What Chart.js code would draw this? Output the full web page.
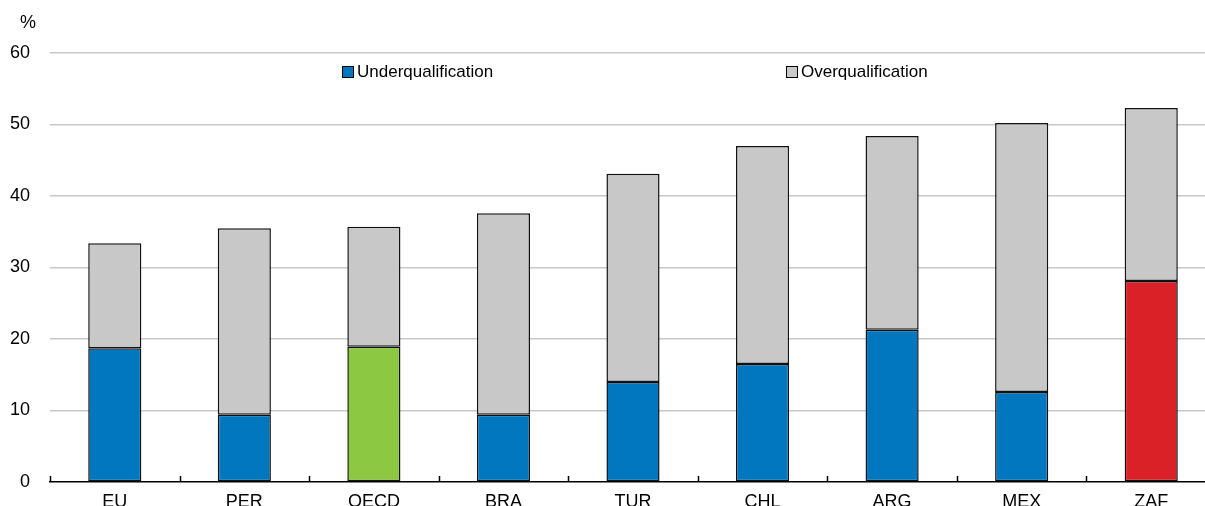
<!DOCTYPE html>
<html>
<head>
<meta charset="utf-8">
<script src="https://cdn.jsdelivr.net/npm/chart.js@4/dist/chart.umd.min.js"></script>
<style>
  html, body { margin: 0; padding: 0; background: #fff; overflow: hidden; }
  #wrap { width: 1205px; height: 506px; overflow: hidden; position: relative; }
  canvas { display: block; }
</style>
</head>
<body>
<div id="wrap"><canvas id="chart" width="1216" height="506"></canvas></div>
<script>
// Data
const countries = ['EU', 'PER', 'OECD', 'BRA', 'TUR', 'CHL', 'ARG', 'MEX', 'ZAF'];
const underqualification = [18.7, 9.4, 18.9, 9.4, 14.0, 16.5, 21.3, 12.6, 28.1];
const overqualification = [14.7, 26.1, 16.8, 28.2, 29.1, 30.5, 27.1, 37.6, 24.2];
const yTicks = [0, 10, 20, 30, 40, 50, 60];
const seriesNames = ['Underqualification', 'Overqualification'];

const FONT = '"Liberation Sans Narrow", "Arial Narrow", "Liberation Sans", Arial, sans-serif';
const FONT_SIZE = 18;
const BLUE = '#0077be';
const GREY = '#c8c8c8';

// highlight colours for OECD and ZAF
const underColours = countries.map(function (c) {
  if (c === 'OECD') return '#8cc841';
  if (c === 'ZAF') return '#da2128';
  return BLUE;
});

// legend, % label and small upward ticks on the x axis
const extras = {
  id: 'extras',
  afterDraw: function (chart) {
    const ctx = chart.ctx;
    const area = chart.chartArea;
    ctx.save();
    ctx.fillStyle = '#000';
    ctx.font = FONT_SIZE + 'px ' + FONT;
    ctx.textBaseline = 'middle';
    ctx.textAlign = 'left';
    ctx.fillText('%', 20, 23);

    // legend
    ctx.font = '17px ' + FONT;
    const items = [
      { label: seriesNames[0], colour: BLUE, x: 342 },
      { label: seriesNames[1], colour: GREY, x: 786 }
    ];
    items.forEach(function (it) {
      ctx.fillStyle = it.colour;
      ctx.fillRect(it.x, 66, 11, 11);
      ctx.strokeStyle = '#000';
      ctx.lineWidth = 1;
      ctx.strokeRect(it.x + 0.5, 66.5, 11, 11);
      ctx.fillStyle = '#000';
      ctx.fillText(it.label, it.x + 15, 72);
    });

    // ticks between categories
    ctx.strokeStyle = '#000';
    ctx.lineWidth = 1.5;
    const step = (area.right - area.left) / countries.length;
    for (let i = 0; i <= countries.length; i++) {
      const tx = Math.round(area.left + i * step) + 0.5;
      ctx.beginPath();
      ctx.moveTo(tx, area.bottom);
      ctx.lineTo(tx, area.bottom - 6);
      ctx.stroke();
    }
    ctx.restore();
  }
};

new Chart(document.getElementById('chart'), {
  type: 'bar',
  data: {
    labels: countries,
    datasets: [
      {
        label: seriesNames[0],
        data: underqualification,
        backgroundColor: underColours,
        borderColor: '#111',
        borderWidth: 1.5,
        borderSkipped: false
      },
      {
        label: seriesNames[1],
        data: overqualification,
        backgroundColor: GREY,
        borderColor: '#111',
        borderWidth: 1.5,
        borderSkipped: false
      }
    ]
  },
  options: {
    responsive: false,
    animation: false,
    datasets: { bar: { categoryPercentage: 1, barPercentage: 0.41 } },
    layout: { padding: { top: 53, right: 0, bottom: 0, left: 0 } },
    plugins: {
      legend: { display: false },
      tooltip: { enabled: false }
    },
    scales: {
      x: {
        stacked: true,
        grid: { display: false },
        border: { display: true, color: '#000', width: 1.5 },
        ticks: { color: '#000', font: { family: FONT, size: FONT_SIZE }, padding: 1, maxRotation: 0 },
        afterFit: function (scale) { scale.height = 24; }
      },
      y: {
        stacked: true,
        min: 0,
        max: 60,
        afterBuildTicks: function (scale) {
          scale.ticks = yTicks.map(function (v) { return { value: v }; });
        },
        grid: {
          color: function (c) { return c.tick.value === 0 ? 'rgba(0,0,0,0)' : '#c8c8c8'; },
          lineWidth: 1.5,
          drawTicks: false
        },
        border: { display: false },
        ticks: { color: '#000', font: { family: FONT, size: FONT_SIZE }, padding: 20 },
        afterFit: function (scale) {
          scale.width = 50;
          scale.paddingTop = 0;
          scale.paddingBottom = 0;
        }
      }
    }
  },
  plugins: [extras]
});
</script>
</body>
</html>
